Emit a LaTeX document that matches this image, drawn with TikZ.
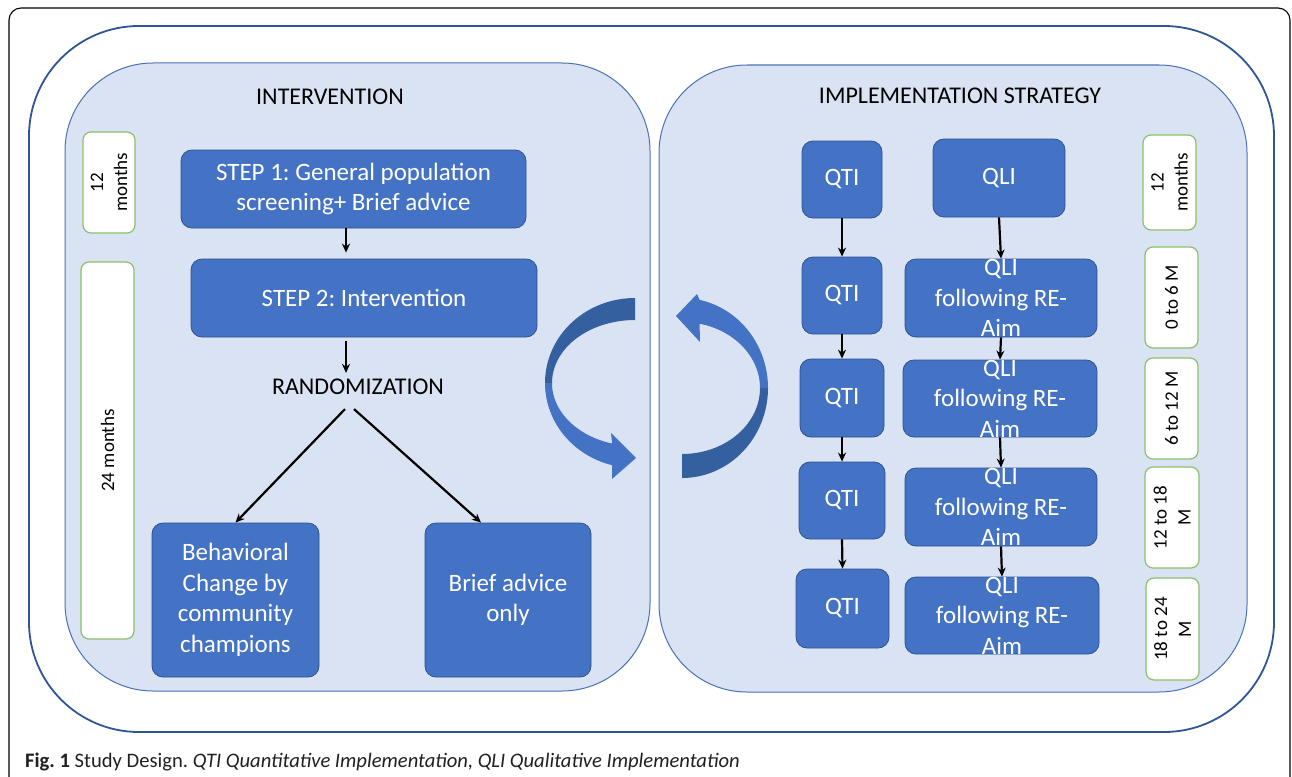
\documentclass[tikz,border=0pt]{standalone}
\usepackage{fontspec}
\setmainfont{Carlito}
\usetikzlibrary{arrows.meta}
\frenchspacing
\definecolor{boxblue}{HTML}{4472C4}
\definecolor{boxedge}{HTML}{2F528F}
\definecolor{panelfill}{HTML}{DAE3F3}
\definecolor{paneledge}{HTML}{4A72B8}
\definecolor{outerblue}{HTML}{2F5597}
\definecolor{tgreen}{HTML}{8CC06A}
\definecolor{darkarrow}{HTML}{35609F}
\definecolor{captext}{HTML}{231F20}
\tikzset{
  panel/.style={draw=paneledge, line width=1pt, fill=panelfill, rounded corners=88pt},
  bbox/.style={draw=boxedge, line width=0.8pt, fill=boxblue, rounded corners=11pt, inner sep=0pt},
  wtext/.style={text=white, font=\fontsize{25}{30.5}\selectfont, align=center, inner sep=0pt},
  tbox/.style={draw=tgreen, line width=1.2pt, fill=white, rounded corners=8pt, inner sep=0pt},
  ttext/.style={rotate=90, font=\fontsize{19}{24}\selectfont, align=center, inner sep=0pt},
  titletext/.style={font=\fontsize{24}{29}\selectfont, inner sep=0pt},
  arr/.style={-{Stealth[length=9pt,width=8pt]}, line width=2.2pt, black},
}
\newcommand{\bx}[6]{% name, cx, cy, w, h, text
  \node[bbox, minimum width=#4pt, minimum height=#5pt] (#1) at (#2,#3) {};
  \node[wtext] (#1t) at (#1.center) {#6};}
\newcommand{\tb}[6]{%
  \node[tbox, minimum width=#4pt, minimum height=#5pt] (#1) at (#2,#3) {};
  \node[ttext] (#1t) at (#1.center) {#6};}
\begin{document}
\begin{tikzpicture}[x=1pt,y=-1pt]
\useasboundingbox (0,0) rectangle (1292,776);
\fill[white] (0,0) rectangle (1292,776);
% black frame
\draw[black, line width=1.1pt, rounded corners=12pt] (9,800) -- (9,8) -- (1290,8) -- (1290,800);
% outer blue frame
\draw[outerblue, line width=1.8pt, rounded corners=110pt] (29,26) rectangle (1274,732);
% panels
\draw[panel] (65,63) rectangle (650,691);
\draw[panel] (659,65) rectangle (1247,692);
% titles
\node[titletext] (tint) at (330,97) {INTERVENTION};
\node[titletext] (timp) at (960,96) {IMPLEMENTATION STRATEGY};
% left side
\tb{l1}{109}{182.5}{52}{101}{12\\months}
\tb{l2}{107.5}{450.5}{53}{377}{24 months}
\bx{s1}{353.5}{189}{345}{78}{STEP 1: General population\\screening+ Brief advice}
\bx{s2}{364}{298}{346}{78}{STEP 2: Intervention}
\node[titletext] (rnd) at (358,387) {RANDOMIZATION};
\bx{beh}{235.5}{600}{167}{154}{Behavioral\\Change by\\community\\champions}
\bx{br}{508}{600}{166}{154}{Brief advice\\only}
\coordinate (ax) at (346,0);
\draw[arr] (s1.south -| ax) -- ([yshift=6pt]s2.north -| ax);
\draw[arr] ([yshift=-4pt]s2.south -| ax) -- ([yshift=6pt]rnd.north -| ax);
\draw[arr] ([xshift=-13pt,yshift=-14pt]rnd.south) -- (beh.north);
\draw[arr] ([xshift=-4pt,yshift=-14pt]rnd.south) -- ([xshift=-27pt]br.north);
% right side
\bx{q1}{842}{179.5}{80}{77}{QTI}
\bx{q2}{842}{295.5}{80}{77}{QTI}
\bx{q3}{842}{398}{84}{78}{QTI}
\bx{q4}{842}{500.5}{86}{77}{QTI}
\bx{q5}{842.5}{608.5}{93}{79}{QTI}
\bx{p1}{999}{178}{132}{78}{QLI}
\bx{p2}{1001}{298}{192}{78}{QLI\\following RE-\\Aim}
\bx{p3}{1000}{398.5}{194}{77}{QLI\\following RE-\\Aim}
\bx{p4}{1001}{507}{192}{78}{QLI\\following RE-\\Aim}
\bx{p5}{1002}{615.5}{194}{77}{QLI\\following RE-\\Aim}
\foreach \a/\b in {q1/q2,q2/q3,q3/q4,q4/q5,p1/p2,p2/p3,p3/p4,p4/p5}
  \draw[arr] (\a.south) -- (\b.north);
\tb{r1}{1169.5}{182.5}{53}{95}{12\\months}
\tb{r2}{1171.5}{297.5}{53}{101}{0 to 6 M}
\tb{r3}{1171.5}{408.5}{53}{101}{6 to 12 M}
\tb{r4}{1172}{517.5}{54}{101}{12 to 18\\M}
\tb{r5}{1172.5}{629}{53}{102}{18 to 24\\M}
% curved arrow, left panel
\fill[darkarrow] plot[domain=270:180,samples=40] ({635+90*cos(\x)},{383+85*sin(\x)})
  -- plot[domain=180:270,samples=40] ({635+83*cos(\x)},{383+63*sin(\x)}) -- cycle;
\fill[boxblue] plot[domain=180:104.8,samples=40] ({635+90*cos(\x)},{383+85*sin(\x)})
  -- (612,479) -- (636,458) -- (611,433)
  -- plot[domain=106:180,samples=40] ({635+83*cos(\x)},{383+63*sin(\x)}) -- cycle;
% curved arrow, right panel
\fill[darkarrow] plot[domain=90:0,samples=40] ({682+86*cos(\x)},{388+90*sin(\x)})
  -- plot[domain=0:90,samples=40] ({682+78*cos(\x)},{388+66*sin(\x)}) -- cycle;
\fill[boxblue] plot[domain=360:281.8,samples=40] ({682+86*cos(\x)},{388+90*sin(\x)})
  -- (697,294) -- (676,316) -- (700,342)
  -- plot[domain=283:360,samples=40] ({682+78*cos(\x)},{388+66*sin(\x)}) -- cycle;
% caption
\node[anchor=base west, inner sep=0pt, text=captext, font=\fontsize{20.6}{25}\selectfont] (cap) at (25,767)
  {\textbf{Fig. 1} Study Design. \textit{QTI Quantitative Implementation, QLI Qualitative Implementation}};
\end{tikzpicture}
\end{document}
